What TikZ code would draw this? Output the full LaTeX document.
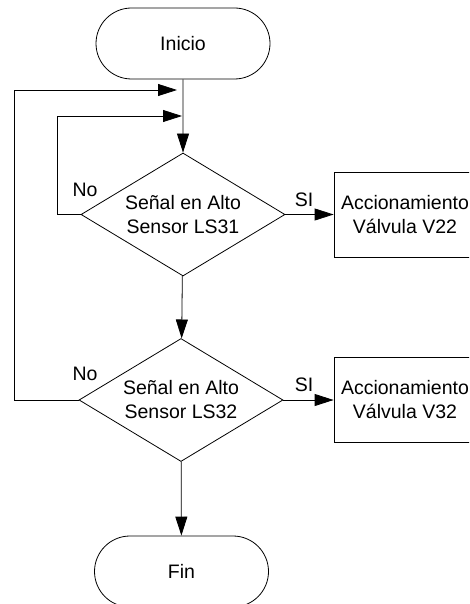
\documentclass[tikz,border=0pt]{standalone}
\usepackage{fontspec}
\setmainfont{Liberation Sans}
\usetikzlibrary{shapes.geometric,shapes.misc,arrows.meta}
\begin{document}
\begin{tikzpicture}[x=1pt,y=-1pt,
  every node/.style={font=\fontsize{19.5}{24}\selectfont},
  term/.style={draw,line width=0.8pt,rounded rectangle,minimum width=174pt,minimum height=71pt,inner sep=0pt},
  dec/.style={draw,line width=0.8pt,diamond,aspect=1.66,minimum width=204pt,minimum height=123pt,inner sep=0pt,align=center},
  actbox/.style={draw,line width=0.8pt,rectangle,minimum width=142pt,minimum height=85pt,inner sep=0pt,align=center},
  lbl/.style={inner sep=0pt},
  arr/.style={line width=0.8pt,-{Triangle[length=19pt,width=12pt]}},
  ln/.style={line width=0.8pt}]
\useasboundingbox (0,0) rectangle (469,604);
\clip (0,0) rectangle (469,604);
\node[term] (ini) at (183,43.5) {Inicio};
\node[dec] (d1) at (183,214.5) {Señal en Alto\\Sensor LS31};
\node[actbox] (b1) at (405,214.5) {Accionamiento\\Válvula V22};
\node[dec] (d2) at (181,400) {Señal en Alto\\Sensor LS32};
\node[actbox] (b2) at (405,400) {Accionamiento\\Válvula V32};
\node[term] (fin) at (181.5,571.5) {Fin};
\coordinate (j1) at (182,90);
\coordinate (j2) at (182,116);
\coordinate (l1) at (57,116);
\coordinate (l2) at (14,90);
\draw[arr] (ini) -- (d1);
\draw[arr] (d1.west) -| (l1) -- (j2);
\draw[arr,shorten >=5pt] (d2.west) -| (l2) -- (j1);
\draw[arr] (d1) -- (d2);
\draw[arr] (d2) -- (fin);
\draw[arr] (d1.east) -- (b1.west);
\draw[arr] (d2.east) -- (b2.west);
\node[lbl] (no1) at (85,190) {No};
\node[lbl] (si1) at (304,200) {SI};
\node[lbl] (no2) at (85,374) {No};
\node[lbl] (si2) at (304,385) {SI};
\end{tikzpicture}
\end{document}
